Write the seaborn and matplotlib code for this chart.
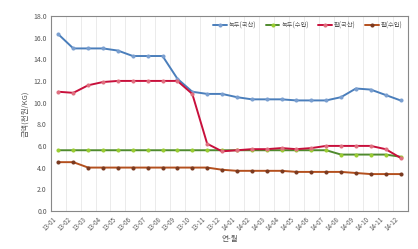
import matplotlib
matplotlib.use("Agg")
import matplotlib.pyplot as plt
import seaborn as sns
import pandas as pd

months = ["13-01", "13-02", "13-03", "13-04", "13-05", "13-06", "13-07", "13-08",
          "13-09", "13-10", "13-11", "13-12", "14-01", "14-02", "14-03", "14-04",
          "14-05", "14-06", "14-07", "14-08", "14-09", "14-10", "14-11", "14-12"]

nokdu_kuksan = [16.3, 15.0, 15.0, 15.0, 14.8, 14.3, 14.3, 14.3, 12.2, 11.0, 10.8, 10.8,
                10.5, 10.3, 10.3, 10.3, 10.2, 10.2, 10.2, 10.5, 11.3, 11.2, 10.7, 10.2]
nokdu_suip = [5.6, 5.6, 5.6, 5.6, 5.6, 5.6, 5.6, 5.6, 5.6, 5.6, 5.6, 5.6,
              5.6, 5.6, 5.6, 5.6, 5.6, 5.6, 5.6, 5.2, 5.2, 5.2, 5.2, 5.0]
pat_kuksan = [11.0, 10.9, 11.6, 11.9, 12.0, 12.0, 12.0, 12.0, 12.0, 10.8, 6.2, 5.5,
              5.6, 5.7, 5.7, 5.8, 5.7, 5.8, 6.0, 6.0, 6.0, 6.0, 5.7, 4.9]
pat_suip = [4.5, 4.5, 4.0, 4.0, 4.0, 4.0, 4.0, 4.0, 4.0, 4.0, 4.0, 3.8,
            3.7, 3.7, 3.7, 3.7, 3.6, 3.6, 3.6, 3.6, 3.5, 3.4, 3.4, 3.4]

series = {
    "녹두(국산)": nokdu_kuksan,
    "녹두(수입)": nokdu_suip,
    "팥(국산)": pat_kuksan,
    "팥(수입)": pat_suip,
}
colors = {"녹두(국산)": "#4a7ebb", "녹두(수입)": "#4f8a2e",
          "팥(국산)": "#c8103c", "팥(수입)": "#b4501e"}
marker_colors = {"녹두(국산)": "#7a9fd0", "녹두(수입)": "#9acd32",
                 "팥(국산)": "#e07080", "팥(수입)": "#7a3a20"}

df = pd.DataFrame({"month": months * 4,
                   "series": [k for k in series for _ in months],
                   "value": [v for vals in series.values() for v in vals]})

sns.set_style("white")
plt.rcParams["font.family"] = ["Noto Sans CJK KR", "DejaVu Sans"]

fig, ax = plt.subplots(figsize=(4.18, 2.49), dpi=100)
x_pos = {m: i for i, m in enumerate(months)}
df["x"] = df["month"].map(x_pos)

for name in series:
    sub = df[df["series"] == name]
    sns.lineplot(data=sub, x="x", y="value", ax=ax, color=colors[name], lw=1.4,
                 marker="o", markersize=2.2, markerfacecolor=marker_colors[name],
                 markeredgecolor=marker_colors[name], label=name)

ax.set_xlim(-0.5, len(months) - 0.5)
ax.set_ylim(0, 18)
ax.set_yticks(range(0, 19, 2))
ax.set_yticklabels([f"{v:.1f}" for v in range(0, 19, 2)], fontsize=5, color="#555555")
ax.set_xticks(range(len(months)))
ax.set_xticklabels(months, rotation=45, ha="right", fontsize=4.5, color="#555555")
ax.tick_params(length=0, pad=3)
for i in range(len(months)):
    ax.axvline(i + 0.5, color="#e8e8e8", lw=0.6, zorder=0)
for s in ax.spines.values():
    s.set_color("#888888")
    s.set_linewidth(0.8)

ax.set_xlabel("연-월", fontsize=5.5, color="#555555", labelpad=2)
ax.set_ylabel("금액(천원/KG)", fontsize=5.5, color="#555555", labelpad=3)

leg = ax.legend(loc="upper right", ncol=4, fontsize=4.5, frameon=False,
                handlelength=2.2, columnspacing=1.5, handletextpad=0.3,
                bbox_to_anchor=(1.0, 1.0))
for t in leg.get_texts():
    t.set_color("#555555")

fig.subplots_adjust(left=0.122, right=0.976, top=0.936, bottom=0.153)
fig.savefig("out.png", dpi=100)
